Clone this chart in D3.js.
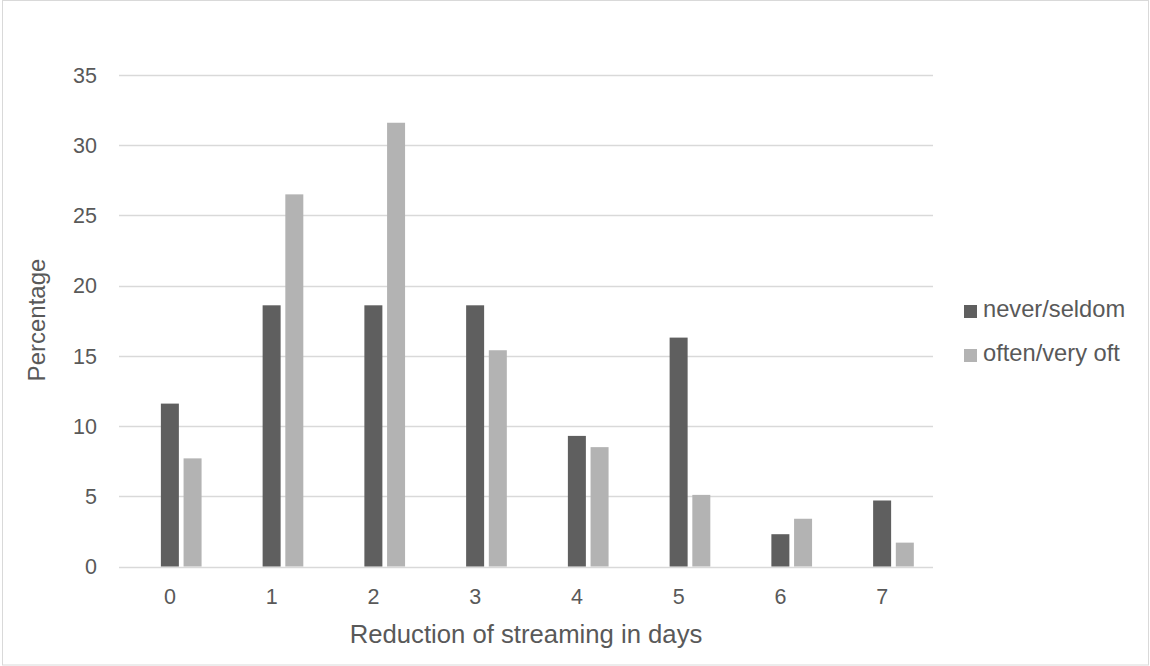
<!DOCTYPE html>
<html>
<head>
<meta charset="utf-8">
<script src="https://cdn.jsdelivr.net/npm/d3@7"></script>
<style>
  body { margin: 0; background: #fff; }
  text { font-family: "Liberation Sans", Arial, sans-serif; fill: #595959; }
</style>
</head>
<body>
<script>
const width = 1150;
const height = 666;

// data
const days = ["0", "1", "2", "3", "4", "5", "6", "7"];
const series = ["never/seldom", "often/very oft"];
const neverSeldom = [11.6, 18.6, 18.6, 18.6, 9.3, 16.3, 2.3, 4.7];
const oftenVeryOft = [7.7, 26.5, 31.6, 15.4, 8.5, 5.1, 3.4, 1.7];
const yTicks = [0, 5, 10, 15, 20, 25, 30, 35];
const colors = ["#5f5f5f", "#b3b3b3"];

const rows = days.map((d, i) => ({ day: d, values: [neverSeldom[i], oftenVeryOft[i]] }));

const svg = d3.select("body").append("svg")
    .attr("width", width)
    .attr("height", height);

// chart frame
svg.append("rect")
    .attr("x", 2.5).attr("y", 0.5)
    .attr("width", width - 4).attr("height", height - 1.5)
    .attr("fill", "#fff")
    .attr("stroke", "#d9d9d9");

const x0 = d3.scaleBand()
    .domain(days)
    .range([119, 933])
    .paddingInner(0.377)
    .paddingOuter(0.1885);

// three slots per category, the first one is empty in the original
const x1 = d3.scaleBand()
    .domain(["blank"].concat(series))
    .range([0, x0.bandwidth()])
    .paddingInner(0.207);

const y = d3.scaleLinear()
    .domain([0, 35])
    .range([566.5, 75]);

// gridlines
svg.append("g")
    .selectAll("line")
    .data(yTicks)
    .enter().append("line")
    .attr("x1", 119)
    .attr("x2", 933)
    .attr("y1", d => Math.round(y(d)) + 0.5)
    .attr("y2", d => Math.round(y(d)) + 0.5)
    .style("stroke", "#d9d9d9")
    .style("stroke-width", 1.3);

// y tick labels
svg.append("g")
    .selectAll("text")
    .data(yTicks)
    .enter().append("text")
    .attr("x", 97)
    .attr("y", d => y(d))
    .attr("dy", "0.36em")
    .attr("text-anchor", "end")
    .style("font-size", "21.5px")
    .text(d => d);

// bars
const group = svg.append("g")
    .selectAll("g")
    .data(rows)
    .enter().append("g")
    .attr("transform", d => `translate(${x0(d.day)},0)`);

group.selectAll("rect")
    .data(d => d.values.map((v, i) => ({ key: series[i], value: v, i: i })))
    .enter().append("rect")
    .attr("x", d => x1(d.key))
    .attr("width", x1.bandwidth())
    .attr("y", d => y(d.value))
    .attr("height", d => y(0) - y(d.value))
    .style("fill", d => colors[d.i]);

// x tick labels, centred on the category
svg.append("g")
    .selectAll("text")
    .data(days)
    .enter().append("text")
    .attr("x", d => x0(d) + x0.bandwidth() / 2)
    .attr("y", 604)
    .attr("text-anchor", "middle")
    .style("font-size", "21.5px")
    .text(d => d);

// axis titles
svg.append("text")
    .attr("x", 526)
    .attr("y", 643)
    .attr("text-anchor", "middle")
    .style("font-size", "25.7px")
    .text("Reduction of streaming in days");

svg.append("text")
    .attr("transform", "translate(45,320) rotate(-90)")
    .attr("text-anchor", "middle")
    .style("font-size", "24px")
    .text("Percentage");

// legend
const legend = svg.append("g")
    .selectAll("g")
    .data(series)
    .enter().append("g")
    .attr("transform", (d, i) => `translate(964,${305 + i * 44})`);

legend.append("rect")
    .attr("width", 13)
    .attr("height", 13)
    .style("fill", (d, i) => colors[i]);

legend.append("text")
    .attr("x", 19)
    .attr("y", 12)
    .style("font-size", "23.7px")
    .text(d => d);
</script>
</body>
</html>
